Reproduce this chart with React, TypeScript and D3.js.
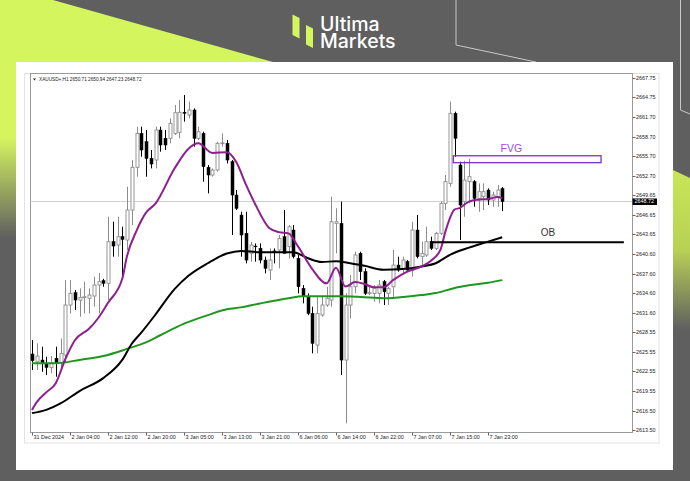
import React from "react";
import * as d3 from "d3";

// XAUUSD+ H1 bars, 31 Dec 2024 20:00 through 8 Jan 2025 03:00
const opens = [
  2625.21, 2624.02, 2624.28, 2623.66, 2623.15, 2624.54, 2623.87, 2625.05, 2632.76, 2634.66,
  2633.53, 2633.94, 2633.79, 2634.15, 2635.84, 2636.51, 2636.1, 2642.52, 2642.01, 2643.29,
  2642.78, 2647.4, 2653.98, 2659.22, 2657.93, 2655.37, 2655.11, 2659.73, 2658.45, 2658.45,
  2659.22, 2659.37, 2662.46, 2662.05, 2662.82, 2658.45, 2659.22, 2653.98, 2652.8, 2653.57,
  2657.68, 2657.68, 2654.85, 2649.71, 2646.63, 2643.81, 2640.72, 2641.85, 2641.49, 2639.69,
  2638.15, 2641.1, 2641.24, 2643.29, 2641.75, 2644.32, 2639.95, 2635.33, 2634.04, 2631.47,
  2626.59, 2631.22, 2632.76, 2633.53, 2645.35, 2645.35, 2624.28, 2632.76, 2635.58, 2640.72,
  2637.9, 2634.56, 2634.56, 2634.56, 2636.36, 2634.56, 2635.58, 2638.92, 2638.41, 2639.44,
  2638.15, 2644.32, 2640.21, 2640.47, 2642.52, 2641.49, 2643.81, 2648.43, 2651.51, 2662.3,
  2654.34, 2648.69, 2651.77, 2651.77, 2649.2, 2649.46, 2650.48, 2648.94, 2649.46, 2650.71,
];
const highs = [
  2627.36, 2626.85, 2626.34, 2624.79, 2624.9, 2626.34, 2627.62, 2636.61, 2636.61, 2635.07,
  2635.33, 2636.36, 2635.33, 2637.13, 2637.7, 2636.8, 2646.37, 2645.6, 2646.37, 2644.83,
  2651.0, 2655.11, 2660.25, 2660.25, 2659.73, 2656.65, 2660.25, 2660.25, 2659.73, 2661.53,
  2663.59, 2664.36, 2665.13, 2664.1, 2663.07, 2660.25, 2659.48, 2654.34, 2653.82, 2657.93,
  2659.22, 2658.19, 2655.11, 2650.48, 2647.14, 2647.14, 2642.52, 2642.26, 2642.26, 2640.21,
  2641.49, 2641.49, 2643.55, 2647.4, 2645.09, 2645.09, 2640.47, 2635.84, 2634.56, 2632.5,
  2634.04, 2634.04, 2635.58, 2649.46, 2647.66, 2648.69, 2634.56, 2637.38, 2640.98, 2640.98,
  2638.41, 2635.58, 2635.84, 2636.61, 2636.61, 2635.58, 2641.24, 2640.21, 2640.21, 2639.69,
  2645.6, 2646.63, 2642.52, 2644.83, 2643.29, 2644.06, 2648.69, 2652.8, 2664.1, 2662.56,
  2654.85, 2655.0, 2655.3, 2652.02, 2651.51, 2651.51, 2650.74, 2650.23, 2651.25, 2650.94,
];
const lows = [
  2622.74, 2622.74, 2622.48, 2621.97, 2622.23, 2621.71, 2622.74, 2623.77, 2631.47, 2631.99,
  2630.96, 2631.47, 2631.47, 2632.5, 2631.47, 2635.58, 2633.53, 2640.21, 2640.21, 2637.13,
  2641.24, 2645.09, 2652.54, 2655.62, 2652.54, 2653.82, 2653.82, 2656.39, 2656.65, 2657.68,
  2658.96, 2658.45, 2661.02, 2661.53, 2657.16, 2658.19, 2651.77, 2649.97, 2652.54, 2653.31,
  2657.16, 2654.59, 2643.55, 2647.4, 2640.21, 2639.18, 2639.44, 2639.44, 2639.18, 2637.64,
  2636.61, 2639.18, 2638.41, 2640.72, 2639.95, 2639.95, 2634.56, 2633.02, 2631.2, 2625.31,
  2625.31, 2630.96, 2632.5, 2632.5, 2640.72, 2621.97, 2614.52, 2630.7, 2634.56, 2636.61,
  2634.3, 2634.3, 2633.27, 2633.02, 2632.76, 2632.76, 2634.04, 2637.9, 2637.64, 2637.9,
  2637.13, 2639.95, 2638.67, 2640.21, 2641.24, 2641.24, 2643.55, 2647.4, 2651.0, 2655.62,
  2642.78, 2646.37, 2648.43, 2647.91, 2647.14, 2647.4, 2648.17, 2647.91, 2647.91, 2647.23,
];
const closes = [
  2624.18, 2624.9, 2623.77, 2623.15, 2623.87, 2623.77, 2625.31, 2632.76, 2634.56, 2633.53,
  2633.94, 2634.04, 2634.3, 2635.84, 2636.36, 2636.1, 2642.52, 2641.85, 2643.29, 2642.88,
  2647.4, 2653.98, 2659.22, 2656.65, 2655.37, 2654.49, 2659.73, 2657.42, 2657.42, 2660.76,
  2662.4, 2662.46, 2662.3, 2662.82, 2658.45, 2659.48, 2654.08, 2652.8, 2653.57, 2657.68,
  2657.75, 2655.11, 2649.71, 2647.66, 2643.55, 2639.69, 2642.01, 2641.8, 2639.69, 2638.41,
  2639.69, 2640.9, 2643.03, 2640.72, 2644.83, 2640.21, 2635.58, 2634.04, 2631.47, 2626.85,
  2631.47, 2632.76, 2633.79, 2645.6, 2645.6, 2624.28, 2632.76, 2635.58, 2640.47, 2637.9,
  2634.56, 2634.66, 2635.33, 2635.84, 2634.81, 2635.33, 2638.92, 2638.15, 2639.69, 2638.15,
  2644.32, 2640.21, 2640.72, 2642.52, 2641.49, 2643.81, 2648.43, 2651.77, 2662.3, 2658.45,
  2648.17, 2652.02, 2652.54, 2649.2, 2650.23, 2650.23, 2648.94, 2649.71, 2650.48, 2648.72,
];

// Moving averages as [bar index, value]
const maFast: [number, number][] = [
  [0, 2616.6], [1, 2617.8], [3, 2619.3], [5, 2620.7], [7, 2624.4], [9, 2627.3], [12, 2629.1],
  [14, 2630.8], [16, 2633.1], [19, 2636.8], [20, 2640.3], [22, 2644.2], [24, 2647.0], [26, 2648.4],
  [30, 2653.8], [33, 2656.9], [35, 2657.7], [38, 2656.2], [41, 2656.3], [43, 2654.8], [45, 2651.4],
  [47, 2648.3], [50, 2644.6], [52, 2644.0], [54, 2643.8], [56, 2641.8], [59, 2638.3], [62, 2636.1],
  [64, 2638.5], [66, 2635.6], [68, 2636.3], [70, 2636.0], [72, 2635.5], [74, 2635.5], [76, 2636.6],
  [79, 2637.9], [82, 2638.7], [84, 2639.6], [86, 2641.3], [87, 2644.0], [89, 2647.5], [90, 2647.7],
  [92, 2648.7], [94, 2649.0], [96, 2649.1], [98, 2649.4], [99, 2649.2],
];
const maMid: [number, number][] = [
  [0, 2616.1], [3, 2616.6], [6, 2617.6], [10, 2619.5], [15, 2621.5], [19, 2624.3], [21, 2626.8],
  [23, 2628.5], [26, 2631.3], [30, 2635.2], [33, 2637.3], [37, 2639.2], [41, 2640.7], [44, 2641.1],
  [48, 2640.9], [52, 2640.9], [55, 2640.9], [58, 2640.0], [61, 2639.4], [64, 2639.5], [67, 2639.2],
  [70, 2638.8], [74, 2638.2], [78, 2638.3], [82, 2638.7], [85, 2639.2], [88, 2640.5], [92, 2641.6],
  [95, 2642.3], [99, 2643.2],
];
const maSlow: [number, number][] = [
  [0, 2623.8], [5, 2623.8], [10, 2624.3], [15, 2624.9], [20, 2626.0], [24, 2627.0], [27, 2628.1],
  [32, 2629.9], [37, 2631.2], [41, 2632.1], [44, 2632.4], [48, 2633.0], [54, 2633.8], [57, 2634.1],
  [61, 2634.1], [65, 2634.1], [72, 2633.9], [75, 2633.8], [78, 2634.0], [82, 2634.3], [85, 2634.6],
  [89, 2635.4], [92, 2635.8], [96, 2636.2], [99, 2636.6],
];

const priceTicks = [
  2667.75, 2664.75, 2661.7, 2658.7, 2655.7, 2652.7, 2649.65, 2646.65, 2643.65, 2640.6,
  2637.6, 2634.6, 2631.6, 2628.55, 2625.55, 2622.55, 2619.55, 2616.5, 2613.5,
];
const timeLabels = [
  "31 Dec 2024", "2 Jan 04:00", "2 Jan 12:00", "2 Jan 20:00", "3 Jan 05:00", "3 Jan 13:00",
  "3 Jan 21:00", "6 Jan 06:00", "6 Jan 14:00", "6 Jan 22:00", "7 Jan 07:00", "7 Jan 15:00",
  "7 Jan 23:00",
];
const timeLabelBars = [0, 8, 16, 24, 32, 40, 48, 56, 64, 72, 80, 88, 96];

// Zones
const fvgZone = { from: 88.7, to: 119.8, top: 2655.77, bottom: 2654.7 };
const obZone = { from: 83.8, to: 124.6, level: 2642.45 };

const LIME = "#d5f55f";
const BG = "#5f5f5f";
const MT_FONT = "'Liberation Sans', Arial, sans-serif";

export default function App() {
  const x = d3.scaleLinear().domain([0, 99]).range([32, 502.25]);
  const y = d3.scaleLinear().domain([2613.5, 2667.75]).range([430, 78]);

  const plot = { left: 30.5, right: 632.5, top: 73.5, bottom: 432.5 };
  const last = closes[closes.length - 1];

  const line = d3
    .line<[number, number]>()
    .x((d) => x(d[0]))
    .y((d) => y(d[1]))
    .curve(d3.curveMonotoneX);

  return (
    <svg
      width={690}
      height={481}
      viewBox="0 0 690 481"
      style={{ position: "absolute", left: 0, top: 0, display: "block" }}
    >
      <defs>
        <linearGradient id="leftGlow" x1="0" y1="62" x2="0" y2="481" gradientUnits="userSpaceOnUse">
          <stop offset="0" stopColor={LIME} />
          <stop offset="0.18" stopColor={LIME} />
          <stop offset="0.42" stopColor={BG} />
          <stop offset="1" stopColor={BG} />
        </linearGradient>
        <linearGradient id="rightGlow" x1="0" y1="170" x2="0" y2="330" gradientUnits="userSpaceOnUse">
          <stop offset="0" stopColor="#c8e657" />
          <stop offset="0.5" stopColor="#b8d154" />
          <stop offset="1" stopColor={BG} />
        </linearGradient>
      </defs>

      {/* backdrop */}
      <rect x={0} y={0} width={690} height={481} fill={BG} />
      <polygon points="0,0 53,0 273,62 0,62" fill={LIME} />
      <rect x={0} y={62} width={16} height={419} fill="url(#leftGlow)" />
      <polygon points="673,170 690,178 690,481 673,481" fill="url(#rightGlow)" />
      <polyline points="456,0 456,45 536,62" fill="none" stroke="#c9c9c9" strokeWidth={1} />
      <polyline points="680.5,0 680.5,110 690,114" fill="none" stroke="#c9c9c9" strokeWidth={1} />

      {/* brand mark */}
      <polygon points="292.5,14.5 299.5,18 299.5,38.5 292.5,35" fill={LIME} />
      <polygon points="306,25 313,28.5 313,48 306,44.5" fill={LIME} />
      <text fill="#fff" fontFamily="Inter, sans-serif" fontWeight={500} fontSize={19.5}>
        <tspan x={320} y={31}>Ultima</tspan>
        <tspan x={320} y={47.5}>Markets</tspan>
      </text>

      {/* white card */}
      <rect x={16} y={62} width={657} height={408} fill="#fff" />
      <rect x={24.5} y={73.5} width={634.5} height={369.5} fill="none" stroke="#e2e2e2" strokeWidth={1} />

      {/* plot frame */}
      <rect
        x={plot.left}
        y={plot.top}
        width={plot.right - plot.left}
        height={plot.bottom - plot.top}
        fill="#fff"
        stroke="#9a9a9a"
        strokeWidth={1}
      />

      {/* last price line */}
      <line x1={plot.left} x2={plot.right} y1={Math.round(y(last)) + 0.5} y2={Math.round(y(last)) + 0.5} stroke="#cfcfcf" strokeWidth={1} />

      {/* candles */}
      {opens.map((o, i) => {
        const c = closes[i];
        const bull = c >= o;
        const cx = Math.round(x(i)) + 0.5;
        const top = y(Math.max(o, c));
        const bot = y(Math.min(o, c));
        const col = bull ? "#8c8c8c" : "#000";
        return (
          <g key={i}>
            <line x1={cx} x2={cx} y1={y(highs[i])} y2={y(lows[i])} stroke={col} strokeWidth={1} />
            <rect
              x={cx - 1.5}
              y={top}
              width={3}
              height={Math.max(bot - top, 0.8)}
              fill={bull ? "#fff" : "#000"}
              stroke={col}
              strokeWidth={bull ? 0.9 : 0.5}
            />
          </g>
        );
      })}

      {/* moving averages */}
      <path d={line(maSlow) ?? ""} fill="none" stroke="#1f961f" strokeWidth={2} />
      <path d={line(maMid) ?? ""} fill="none" stroke="#000" strokeWidth={2} />
      <path d={line(maFast) ?? ""} fill="none" stroke="#8e1f91" strokeWidth={2} />

      {/* FVG zone */}
      <rect
        x={x(fvgZone.from)}
        y={y(fvgZone.top)}
        width={x(fvgZone.to) - x(fvgZone.from)}
        height={y(fvgZone.bottom) - y(fvgZone.top)}
        fill="none"
        stroke="#7b34c2"
        strokeWidth={1.3}
      />
      <text
        x={x(fvgZone.from) + 58}
        y={y(fvgZone.top) - 4}
        textAnchor="middle"
        fill="#a54ad6"
        fontFamily="'Liberation Sans', Arial, sans-serif"
        fontSize={10.5}
      >
        FVG
      </text>

      {/* OB level */}
      <line x1={x(obZone.from)} x2={x(obZone.to)} y1={y(obZone.level)} y2={y(obZone.level)} stroke="#000" strokeWidth={2} />
      <text
        x={x(obZone.from) + 118}
        y={y(obZone.level) - 6}
        textAnchor="middle"
        fill="#333"
        fontFamily="'Liberation Sans', Arial, sans-serif"
        fontSize={10}
      >
        OB
      </text>

      {/* price axis */}
      {priceTicks.map((p) => (
        <g key={p}>
          <line x1={plot.right} x2={plot.right + 3} y1={Math.round(y(p)) + 0.5} y2={Math.round(y(p)) + 0.5} stroke="#666" strokeWidth={1} />
          <text x={plot.right + 3.5} y={y(p) + 2} fill="#222" fontFamily={MT_FONT} fontSize={5.4}>
            {p.toFixed(2)}
          </text>
        </g>
      ))}
      <rect x={plot.right} y={y(last) - 3} width={24.5} height={6.5} fill="#000" />
      <text x={plot.right + 2} y={y(last) + 2} fill="#fff" fontFamily={MT_FONT} fontSize={5.4}>
        {last.toFixed(2)}
      </text>

      {/* time axis */}
      {timeLabels.map((t, k) => {
        const tx = Math.round(x(timeLabelBars[k])) + 0.5;
        return (
          <g key={t}>
            <line x1={tx} x2={tx} y1={plot.bottom} y2={plot.bottom + 3} stroke="#666" strokeWidth={1} />
            <text x={tx + 1} y={439} fill="#222" fontFamily={MT_FONT} fontSize={5.4}>
              {t}
            </text>
          </g>
        );
      })}

      {/* symbol caption */}
      <path d="M33,78.5 L36,78.5 L34.5,80.5 Z" fill="#222" />
      <text x={39} y={81} fill="#222" fontFamily={MT_FONT} fontSize={4.7}>
        XAUUSD+,H1  2650.71 2650.94 2647.23 2648.72
      </text>
    </svg>
  );
}
